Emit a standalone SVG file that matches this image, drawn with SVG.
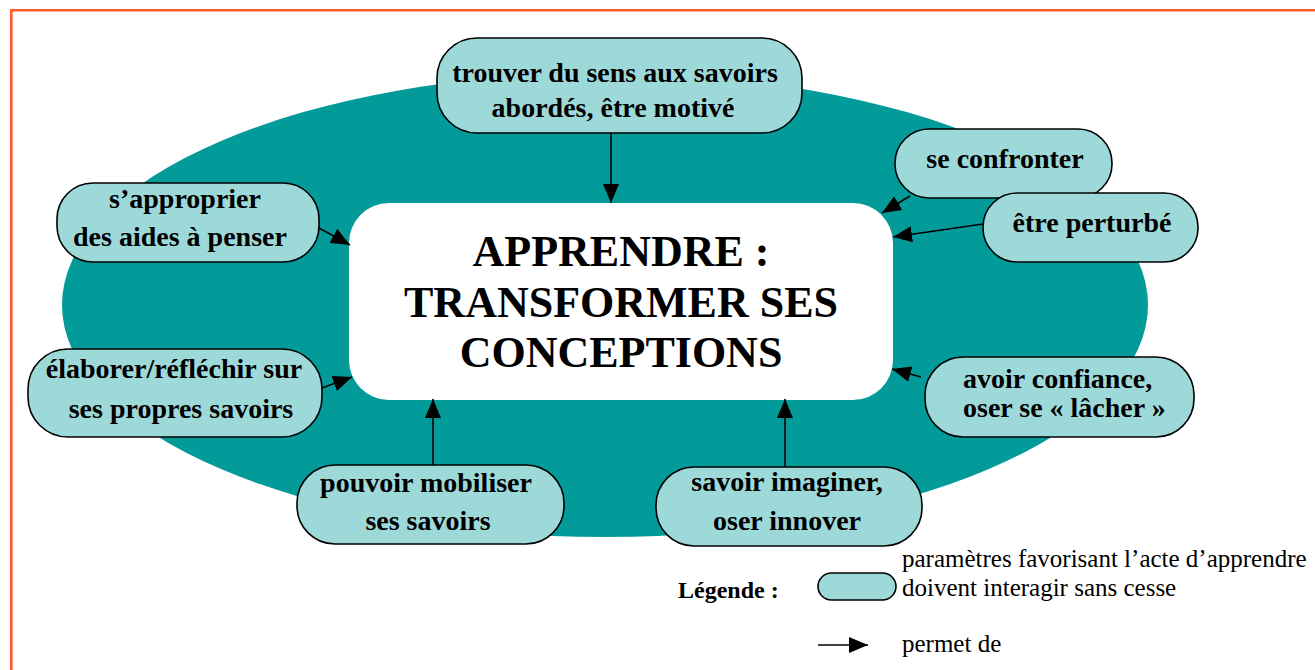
<svg xmlns="http://www.w3.org/2000/svg" width="1315" height="670" viewBox="0 0 1315 670">
<style>
.node{fill:#9ED9D9;stroke:#000;stroke-width:1.6}
.t{font-family:"Liberation Serif","Times New Roman",serif;font-weight:bold;font-size:28px;fill:#000;text-anchor:middle}
.big{font-family:"Liberation Serif","Times New Roman",serif;font-weight:bold;font-size:44px;fill:#000;text-anchor:middle}
.leg{font-family:"Liberation Serif","Times New Roman",serif;font-size:25px;fill:#000}
.conn line{stroke:#000;stroke-width:1.6;marker-end:url(#ah)}
</style>
<defs>
<marker id="ah" viewBox="0 0 19 16" refX="19" refY="8" markerWidth="19" markerHeight="16" markerUnits="userSpaceOnUse" orient="auto">
<path d="M0,0 L19,8 L0,16 Z" fill="#000"/>
</marker>
</defs>
<rect width="1315" height="670" fill="#fff"/>
<path d="M11.3,670 V10.3 H1315" fill="none" stroke="#FF5A28" stroke-width="2.6"/>
<ellipse cx="605" cy="305" rx="543" ry="232" fill="#039A9A"/>
<g id="center">
<rect x="349" y="203" width="544" height="197" rx="40" fill="#fff"/>
<text class="big" x="621" y="266">APPRENDRE :</text>
<text class="big" x="621" y="317">TRANSFORMER SES</text>
<text class="big" x="621" y="367">CONCEPTIONS</text>
</g>
<g id="conns" class="conn">
<line x1="611" y1="133" x2="611" y2="203"/>
<line x1="319" y1="228" x2="350" y2="245"/>
<line x1="910" y1="196" x2="882" y2="213"/>
<line x1="983" y1="224" x2="893" y2="237"/>
<line x1="322" y1="388" x2="352" y2="377"/>
<line x1="433" y1="465" x2="433" y2="399"/>
<line x1="785" y1="467" x2="785" y2="399"/>
<line x1="921" y1="377" x2="892" y2="369"/>
</g>
<g id="n-sens">
<rect class="node" x="437" y="38" width="365" height="95" rx="40"/>
<text class="t" x="615" y="82">trouver du sens aux savoirs</text>
<text class="t" x="613" y="117">abordés, être motivé</text>
</g>
<g id="n-approprier">
<rect class="node" x="57" y="183" width="262" height="79" rx="36"/>
<text class="t" x="185" y="208">s’approprier</text>
<text class="t" x="180" y="246">des aides à penser</text>
</g>
<g id="n-confronter">
<rect class="node" x="895" y="129" width="217" height="69" rx="34"/>
<text class="t" x="1005" y="168">se confronter</text>
</g>
<g id="n-perturbe">
<rect class="node" x="983" y="193" width="215" height="69" rx="34"/>
<text class="t" x="1092" y="232">être perturbé</text>
</g>
<g id="n-elaborer">
<rect class="node" x="28" y="349" width="294" height="88" rx="40"/>
<text class="t" x="174" y="378">élaborer/réfléchir sur</text>
<text class="t" x="181" y="418">ses propres savoirs</text>
</g>
<g id="n-mobiliser">
<rect class="node" x="297" y="465" width="267" height="79" rx="38"/>
<text class="t" x="426" y="492">pouvoir mobiliser</text>
<text class="t" x="428" y="530">ses savoirs</text>
</g>
<g id="n-imaginer">
<rect class="node" x="656" y="467" width="266" height="79" rx="38"/>
<text class="t" x="787" y="491">savoir imaginer,</text>
<text class="t" x="787" y="530">oser innover</text>
</g>
<g id="n-confiance">
<rect class="node" x="925" y="357" width="269" height="80" rx="38"/>
<text class="t" x="963" y="388" style="text-anchor:start">avoir confiance,</text>
<text class="t" x="963" y="417" style="text-anchor:start">oser se « lâcher »</text>
</g>
<g id="legend">
<text class="leg" x="678" y="598" style="font-weight:bold;font-size:24px">Légende :</text>
<rect class="node" x="818" y="573" width="78" height="27" rx="13.5"/>
<text class="leg" x="902" y="567">paramètres favorisant l’acte d’apprendre</text>
<text class="leg" x="902" y="596">doivent interagir sans cesse</text>
<line x1="818" y1="645" x2="868" y2="645" stroke="#000" stroke-width="1.6" marker-end="url(#ah)"/>
<text class="leg" x="902" y="652">permet de</text>
</g>
</svg>
